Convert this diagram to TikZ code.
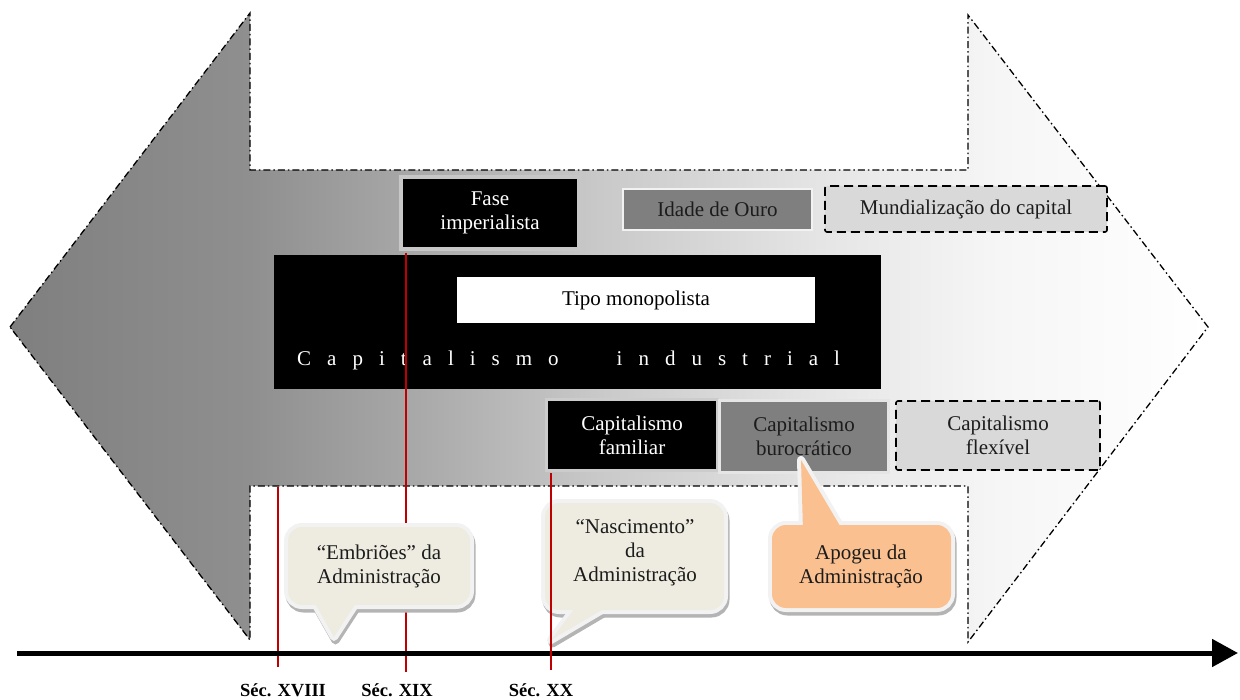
\documentclass[tikz,border=0pt]{standalone}
\usepackage{fontspec}
\setmainfont{Liberation Serif}
\usetikzlibrary{arrows.meta}

\definecolor{secred}{HTML}{C00000}
\definecolor{midgray}{HTML}{7F7F7F}
\definecolor{lightbox}{HTML}{D9D9D9}
\definecolor{beige}{HTML}{EEECE1}
\definecolor{apricot}{HTML}{FAC090}
\definecolor{rim}{HTML}{F2F2F2}
\definecolor{dropshadow}{HTML}{B4B4B4}
\definecolor{inktext}{HTML}{1C1C1C}
\definecolor{sA}{HTML}{7F7F7F}
\definecolor{sB}{HTML}{8F8F8F}
\definecolor{sC}{HTML}{A6A6A6}
\definecolor{sD}{HTML}{C9C9C9}
\definecolor{sE}{HTML}{E5E5E5}
\definecolor{sF}{HTML}{F6F6F6}

% grey-to-white fill of the double arrow (25bp = left tip, 75bp = right tip)
\pgfdeclarehorizontalshading{arrowshade}{100bp}{%
  color(0bp)=(sA); color(25bp)=(sA); color(35bp)=(sB); color(41.3bp)=(sC);
  color(49.6bp)=(sD); color(58.8bp)=(sE); color(66.3bp)=(sF);
  color(75bp)=(white); color(100bp)=(white)}

\newcommand{\ls}{\hspace{16pt}}

\tikzset{
  outline/.style={draw=black, line width=1.3pt,
    dash pattern=on 7pt off 3pt on 1.5pt off 3pt},
  darkbox/.style={fill=black, text=white, align=center, inner sep=0pt},
  greybox/.style={fill=midgray, text=inktext, align=center, inner sep=0pt},
  dashbox/.style={fill=lightbox, text=inktext, align=center, inner sep=0pt,
    draw=black, line width=1.6pt, dash pattern=on 9pt off 5pt, rounded corners=2pt},
  secline/.style={draw=secred, line width=2pt},
  seclabel/.style={font=\fontsize{18.5}{20}\selectfont\bfseries, anchor=base, inner sep=0pt},
  bubbleshadow/.style={fill=dropshadow, draw=dropshadow, line width=8pt, line join=round},
  bubblerim/.style={draw=rim, line width=8pt, line join=round},
  bubbletext/.style={align=center, text=inktext, inner sep=0pt}
}

\begin{document}
\begin{tikzpicture}[x=1pt, y=-1pt, font=\fontsize{21}{24}\selectfont]
\useasboundingbox (0,0) rectangle (1240,700);

% double-headed arrow
\draw[outline, shading=arrowshade]
  (10,327) -- (250,13) -- (250,170) -- (968,170) -- (968,15) -- (1208,327)
  -- (968,642) -- (968,486) -- (250,486) -- (250,640) -- cycle;

% industrial capitalism band
\node[fill=black, minimum width=607pt, minimum height=134pt, inner sep=0pt]
  (ind) at (577.5,322) {};
\node[fill=white, minimum width=358pt, minimum height=46pt, inner sep=0pt]
  (mono) at (636,300) {Tipo monopolista};
\node[text=white, anchor=base west, inner sep=0pt] (indtext) at (297,366)
  {C\ls a\ls p\ls i\ls t\ls a\ls l\ls i\ls s\ls m\ls o\hspace{58pt}i\ls n\ls d\ls u\ls s\ls t\ls r\ls i\ls a\ls l};

% upper row
\node[darkbox, draw=black!22, line width=4pt, minimum width=178pt, minimum height=72pt]
  (fase) at (490,213) {Fase\\imperialista};
\node[greybox, draw=rim, line width=2pt, minimum width=189pt, minimum height=41pt]
  (ouro) at (717.5,209.5) {Idade de Ouro};
\node[dashbox, minimum width=282pt, minimum height=46pt]
  (mund) at (966,209) {Mundialização do capital};

% lower row
\node[darkbox, draw=black!20, line width=3pt, minimum width=171pt, minimum height=71pt]
  (fam) at (632,435) {Capitalismo\\familiar};
\node[greybox, draw=black!10, line width=3pt, minimum width=169pt, minimum height=72pt]
  (buro) at (804,436.5) {Capitalismo\\burocrático};
\node[dashbox, minimum width=204pt, minimum height=69pt]
  (flex) at (998,435.5) {Capitalismo\\flexível};

% century markers
\coordinate (t18) at (278,487);
\coordinate (b18) at (278,667);
\coordinate (b19) at (406,672);
\coordinate (b20) at (551,670);
\draw[secline] (t18) -- (b18);
\draw[secline] ([yshift=-2pt]b19 |- fase.south) -- (b19);

% time axis
\coordinate (ax0) at (17,653);
\coordinate (ax1) at (1238,653);
\draw[line width=5pt, -{Triangle[length=26pt, width=27pt]}] (ax0) -- (ax1);

% callout: Embriões
\begin{scope}[shift={(1.5,3.5)}]
  \filldraw[bubbleshadow, rounded corners=14pt] (288,527) rectangle (470,605);
  \filldraw[bubbleshadow] (313,600) -- (334,637) -- (358,600) -- cycle;
\end{scope}
\draw[bubblerim, fill=beige, rounded corners=14pt] (288,527) rectangle (470,605);
\draw[bubblerim, fill=beige] (313,600) -- (334,637) -- (358,600) -- cycle;
\fill[beige, rounded corners=14pt] (288,527) rectangle (470,605);
\fill[beige] (313,600) -- (334,637) -- (358,600) -- cycle;
\node[bubbletext] (emb) at (379,566) {“Embriões” da\\Administração};

% callout: Nascimento
\begin{scope}[shift={(1.5,3.5)}]
  \filldraw[bubbleshadow, rounded corners=14pt] (545,503) rectangle (724,610);
  \filldraw[bubbleshadow] (578,604) -- (551,640) -- (612,604) -- cycle;
\end{scope}
\draw[bubblerim, fill=beige, rounded corners=14pt] (545,503) rectangle (724,610);
\draw[bubblerim, fill=beige] (578,604) -- (551,640) -- (612,604) -- cycle;
\fill[beige, rounded corners=14pt] (545,503) rectangle (724,610);
\fill[beige] (578,604) -- (551,640) -- (612,604) -- cycle;
\node[bubbletext] (nasc) at (635,553) {“Nascimento”\\da\\Administração};
\draw[secline] ([yshift=-1pt]b20 |- fam.south) -- (b20);

% callout: Apogeu
\begin{scope}[shift={(1.5,3.5)}]
  \filldraw[bubbleshadow, rounded corners=14pt] (772,525) rectangle (951,608);
  \filldraw[bubbleshadow] (803,531) -- (801,460) -- (843,531) -- cycle;
\end{scope}
\draw[bubblerim, fill=apricot, rounded corners=14pt] (772,525) rectangle (951,608);
\draw[bubblerim, fill=apricot] (803,531) -- (801,460) -- (843,531) -- cycle;
\fill[apricot, rounded corners=14pt] (772,525) rectangle (951,608);
\fill[apricot] (803,531) -- (801,460) -- (843,531) -- cycle;
\node[bubbletext] (apog) at (861,566) {Apogeu da\\Administração};

% century labels
\node[seclabel] (s18) at (283,696) {Séc. XVIII};
\node[seclabel] (s19) at (397,696) {Séc. XIX};
\node[seclabel] (s20) at (541,696) {Séc. XX};
\end{tikzpicture}
\end{document}
